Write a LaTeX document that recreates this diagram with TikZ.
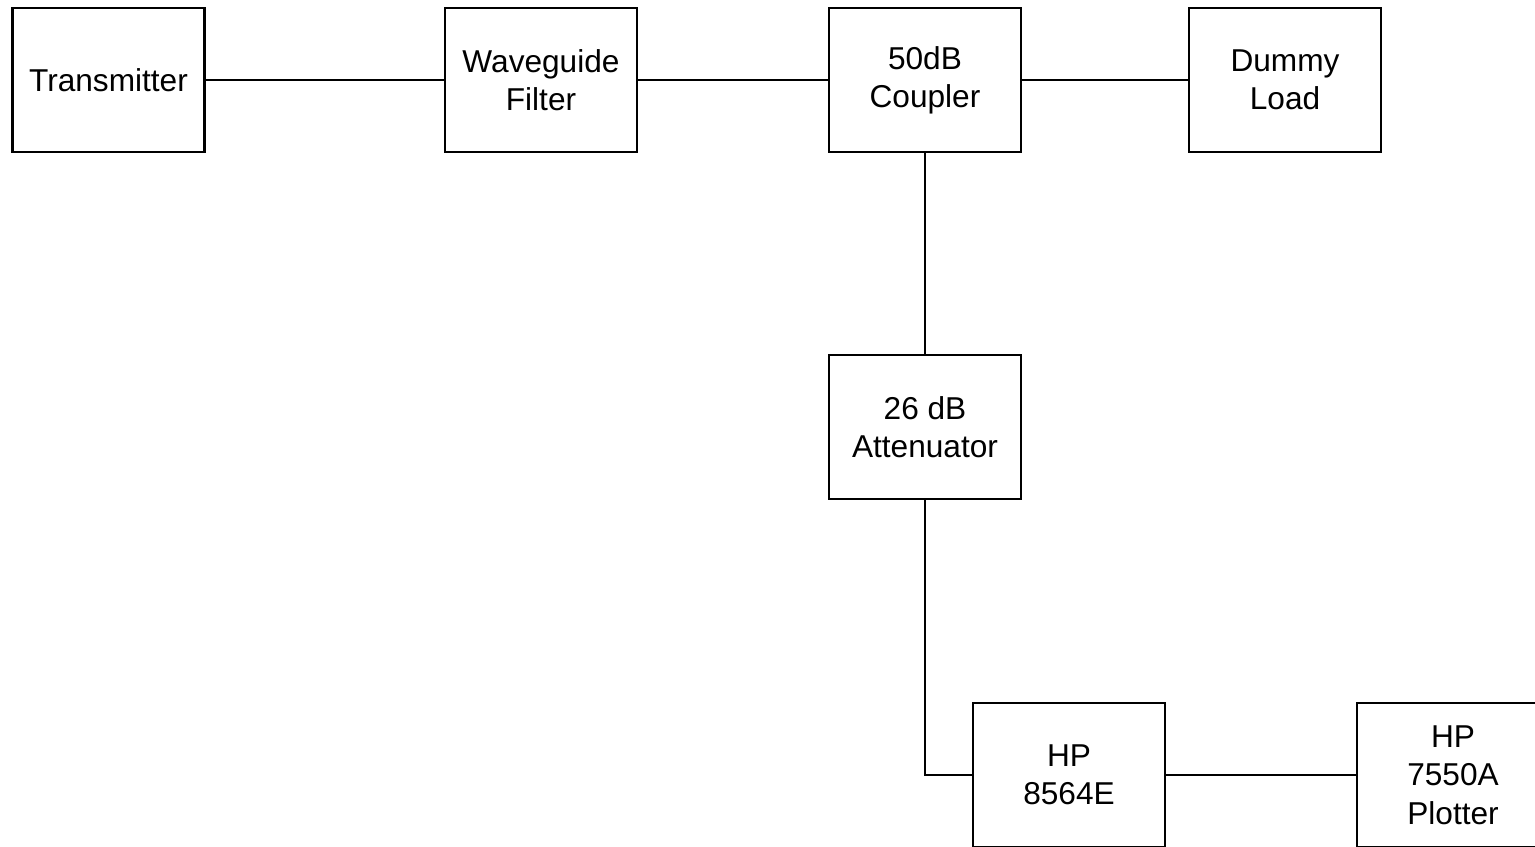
\documentclass[tikz,border=0pt]{standalone}
\usepackage{fontspec}
\setmainfont{Liberation Sans}
\usetikzlibrary{positioning}

\tikzset{
    block/.style={draw, line width=1.6pt, minimum width=3.84cm, minimum height=2.88cm,
        align=center, font=\fontsize{18}{21.8}\selectfont, inner sep=0pt},
    wire/.style={line width=1.6pt}
}

\begin{document}
\begin{tikzpicture}[x=0.02cm, y=-0.02cm]
        \useasboundingbox (0,0) rectangle (1535,847);
        \begin{scope}
        \clip (0,0) rectangle (1535,847);
        \node[block] (tx) at (108.5, 80) {Transmitter};
        \node[block] (filter) at (541, 80) {Waveguide\\Filter};
        \node[block] (coupler) at (925, 80) {50dB\\Coupler};
        \node[block] (load) at (1285, 80) {Dummy\\Load};
        \node[block] (atten) at (925, 427) {26 dB\\Attenuator};
        \node[block] (sa) at (1069, 775) {HP\\8564E};
        \node[block] (plot) at (1453, 775) {HP\\7550A\\Plotter};

        \draw[wire] (tx) -- (filter);
        \draw[wire] (filter) -- (coupler);
        \draw[wire] (coupler) -- (load);
        \draw[wire] (coupler) -- (atten);
        \draw[wire] (atten.south) |- (sa.west);
        \draw[wire] (sa) -- (plot);
        \end{scope}
    \end{tikzpicture}
\end{document}
